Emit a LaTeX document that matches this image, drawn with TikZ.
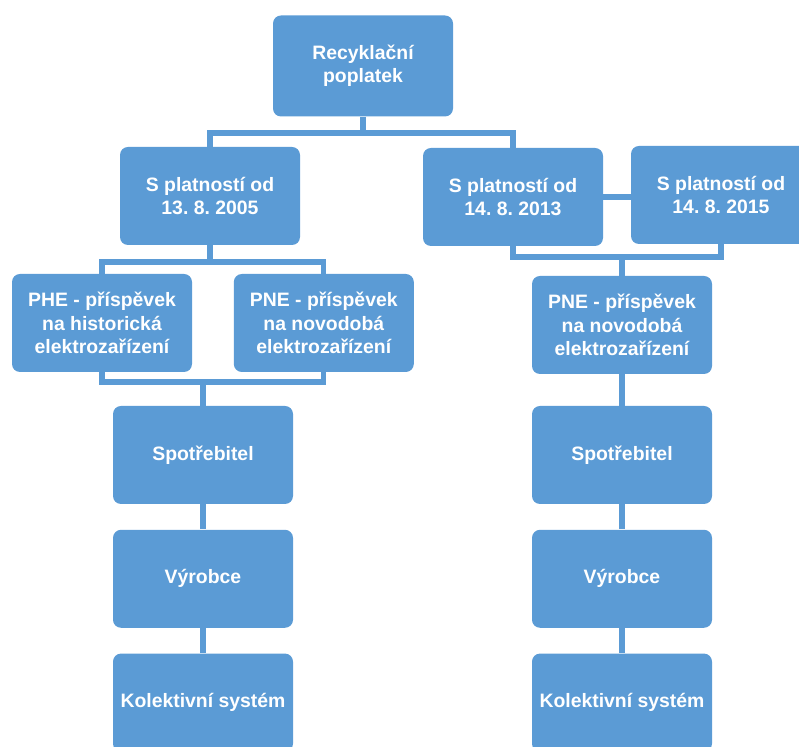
\documentclass[tikz,border=0pt]{standalone}
\usepackage{fontspec}
\setmainfont{Liberation Sans}
\usetikzlibrary{positioning, calc}
\definecolor{boxcol}{HTML}{5B9BD5}
\frenchspacing

\begin{document}
\begin{tikzpicture}[
    x=0.5pt, y=-0.5pt,
    node distance=12.5pt and 20.5pt,
    box/.style={
        fill=boxcol, rounded corners=4pt, minimum width=90pt, minimum height=49pt,
        align=center, text=white, inner sep=2pt,
        font=\bfseries\fontsize{9.7}{11.7}\selectfont
    },
    conn/.style={draw=boxcol, line width=2.6pt},
]

% ── Frame ──
\path[use as bounding box] (0,0) rectangle (799,747);
\clip (0,0) rectangle (799,747);

% ── Nodes ──
\node[box, minimum height=50.5pt] (fee) at (363,66) {Recyklační\\poplatek};

\node[box] (from05) at (210,196) {S platností od\\13. 8. 2005};
\node[box] (from13) at (513,197) {S platností od\\14. 8. 2013};
\node[box] (from15) at (721,195) {S platností od\\14. 8. 2015};

\node[box] (phe) at (102,323)
    {PHE - příspěvek\\na historická\\elektrozařízení};
\node[box, right=of phe] (pneL)
    {PNE - příspěvek\\na novodobá\\elektrozařízení};
\node[box] (pneR) at (622,325)
    {PNE - příspěvek\\na novodobá\\elektrozařízení};

\node[box] (spotL) at (203,455) {Spotřebitel};
\node[box, below=of spotL] (vyrL) {Výrobce};
\node[box, below=of vyrL] (kolL) {Kolektivní systém};

\node[box] (spotR) at (622,455) {Spotřebitel};
\node[box, below=of spotR] (vyrR) {Výrobce};
\node[box, below=of vyrR] (kolR) {Kolektivní systém};

% ── Bus levels ──
\coordinate (bus1) at (0,133);
\coordinate (bus2) at (0,257);
\coordinate (bus3) at (0,262);
\coordinate (bus4) at (0,382);

% ── Connectors ──
\draw[conn] (fee.south) -- (fee.south |- bus1);
\draw[conn] (from05.north) |- (bus1 -| from13.north) -- (from13.north);

\draw[conn] (from13.east) -- (from13.east -| from15.west);
\draw[conn] (from13.south) |- (bus2 -| from15.south) -- (from15.south);
\draw[conn] (pneR.north) -- (pneR.north |- bus2);

\draw[conn] (from05.south) -- (from05.south |- bus3);
\draw[conn] (phe.north) |- (bus3 -| pneL.north) -- (pneL.north);
\draw[conn] (phe.south) |- (bus4 -| pneL.south) -- (pneL.south);
\draw[conn] (spotL.north) -- (spotL.north |- bus4);

\draw[conn] (spotL) -- (vyrL);
\draw[conn] (vyrL) -- (kolL);
\draw[conn] (pneR) -- (spotR);
\draw[conn] (spotR) -- (vyrR);
\draw[conn] (vyrR) -- (kolR);

\end{tikzpicture}
\end{document}
